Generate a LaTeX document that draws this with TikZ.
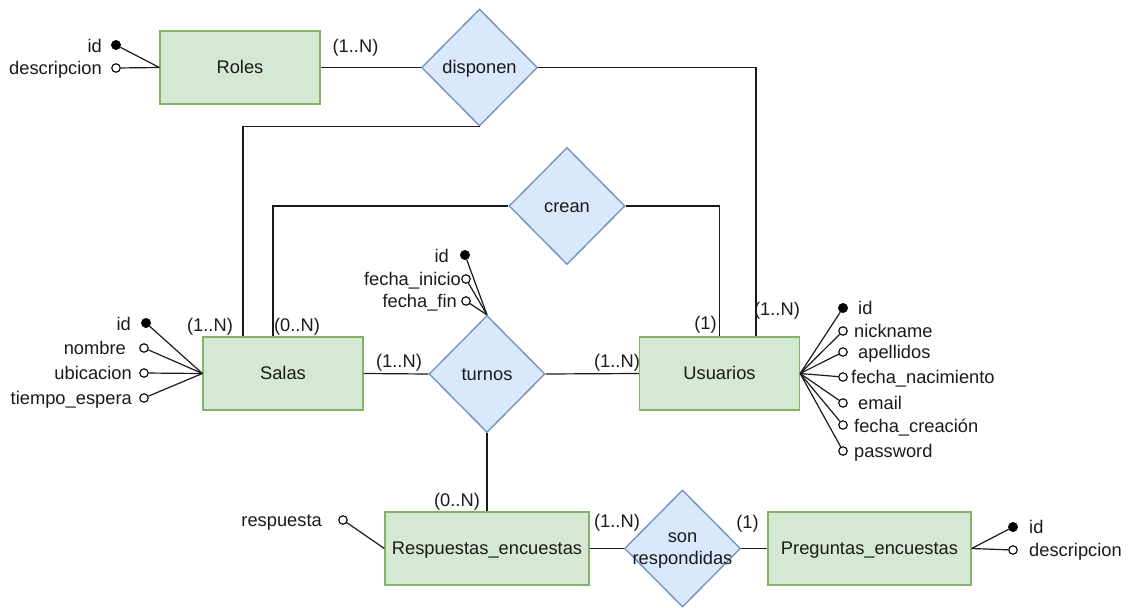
\documentclass[tikz,border=0pt]{standalone}
\usepackage{fontspec}
\setmainfont{Liberation Sans}
\usetikzlibrary{shapes.geometric,calc}
\definecolor{entfill}{HTML}{D5E8D4}
\definecolor{entdraw}{HTML}{82B366}
\definecolor{relfill}{HTML}{DAE8FC}
\definecolor{reldraw}{HTML}{6C8EBF}
\definecolor{ink}{HTML}{1A1A1A}
\begin{document}
\begin{tikzpicture}[x=1pt,y=-1pt,
  every node/.style={font=\fontsize{18.3}{21.5}\selectfont, text=ink},
  ent/.style={rectangle, draw=entdraw, fill=entfill, line width=1.3pt, minimum width=160pt, minimum height=73pt, inner sep=0, text height=16.4pt, text depth=3.6pt},
  rel/.style={diamond, draw=reldraw, fill=relfill, line width=1.3pt, minimum width=116pt, minimum height=117pt, inner sep=0},
  pk/.style={circle, draw=black, fill=black, minimum size=9.5pt, inner sep=0},
  att/.style={circle, draw=black, fill=white, line width=1.1pt, minimum size=8.5pt, inner sep=0},
  txt/.style={inner sep=0, text height=16.4pt, text depth=3.6pt},
  conn/.style={draw=ink, line width=1.2pt},
]
\useasboundingbox (0,0) rectangle (1128,608);

% entities
\node[ent] (roles) at (240,67.5) {Roles};
\node[ent] (salas) at (283,373.5) {Salas};
\node[ent] (usuarios) at (719.5,373.5) {Usuarios};
\node[ent, minimum width=204pt] (resp) at (487,548.5) {Respuestas\_encuestas};
\node[ent, minimum width=203pt] (preg) at (869.5,548.5) {Preguntas\_encuestas};

% relationships
\node[rel] (disponen) at (479.5,67.5) {};
\node[txt] (disponent) at (disponen) {disponen};
\node[rel] (crean) at (567,206) {};
\node[txt] (creant) at (crean) {crean};
\node[rel] (turnos) at (487,374) {};
\node[txt] (turnost) at (turnos) {turnos};
\node[rel] (son) at (682.5,548.5) {};
\node[align=center, inner sep=0] (sont) at ($(son)+(0,2)$) {son\\respondidas};

% relationship connectors
\draw[conn] (roles.east) -- (disponen.west);
\draw[conn] (disponen.east) -| ($(usuarios.north)+(36.5,0)$);
\draw[conn] (disponen.south) -| ($(salas.north)+(-40,0)$);
\draw[conn] (crean.west) -| ($(salas.north)+(-10,0)$);
\draw[conn] (crean.east) -| (usuarios.north);
\draw[conn] (salas.east) -- (turnos.west);
\draw[conn] (turnos.east) -- (usuarios.west);
\draw[conn] (turnos.south) -- (resp.north);
\draw[conn] (resp.east) -- (son.west);
\draw[conn] (son.east) -- (preg.west);

% cardinalities
\node[txt] (c1) at (355.5,46) {(1..N)};
\node[txt] (c2) at (210,325) {(1..N)};
\node[txt] (c3) at (297,325) {(0..N)};
\node[txt] (c4) at (399,361) {(1..N)};
\node[txt] (c5) at (617,361) {(1..N)};
\node[txt] (c6) at (705.5,323) {(1)};
\node[txt] (c7) at (777,309) {(1..N)};
\node[txt] (c8) at (457,500) {(0..N)};
\node[txt] (c9) at (617,521) {(1..N)};
\node[txt] (c10) at (747.5,522) {(1)};

% Roles attributes
\node[pk] (rid) at (116,45) {};
\node[att] (rdesc) at (116,68) {};
\draw[conn] (roles.west) -- (rid);
\draw[conn] (roles.west) -- (rdesc);
\node[txt, anchor=east] (ridl) at (102,46) {id};
\node[txt, anchor=east] (rdescl) at (102,68) {descripcion};

% Salas attributes
\node[pk] (sid) at (146,323) {};
\node[att] (snom) at (144,348) {};
\node[att] (subi) at (144,373) {};
\node[att] (stie) at (144,398) {};
\foreach \a in {sid,snom,subi,stie} \draw[conn] (salas.west) -- (\a);
\node[txt, anchor=east] (sidl) at (131,324) {id};
\node[txt, anchor=east] (snoml) at (126,348) {nombre};
\node[txt, anchor=east] (subil) at (132,373) {ubicacion};
\node[txt, anchor=east] (stiel) at (132,398) {tiempo\_espera};

% turnos attributes
\node[pk] (tid) at (465,255) {};
\node[att] (tini) at (466,279) {};
\node[att] (tfin) at (466,301) {};
\foreach \a in {tid,tini,tfin} \draw[conn] (turnos.north) -- (\a);
\node[txt, anchor=east] (tidl) at (449,256) {id};
\node[txt, anchor=east] (tinil) at (461,279) {fecha\_inicio};
\node[txt, anchor=east] (tfinl) at (457,301) {fecha\_fin};

% Usuarios attributes
\node[pk] (uid) at (843,308) {};
\node[att] (unick) at (843,331) {};
\node[att] (uape) at (843,352) {};
\node[att] (unac) at (843,377) {};
\node[att] (uemail) at (843,403) {};
\node[att] (ucre) at (843,425) {};
\node[att] (upass) at (843,451) {};
\foreach \a in {uid,unick,uape,unac,uemail,ucre,upass} \draw[conn] (usuarios.east) -- (\a);
\node[txt, anchor=west] (uidl) at (858,308) {id};
\node[txt, anchor=west] (unickl) at (854,331) {nickname};
\node[txt, anchor=west] (uapel) at (858,352) {apellidos};
\node[txt, anchor=west] (unacl) at (851,377) {fecha\_nacimiento};
\node[txt, anchor=west] (uemaill) at (858,403) {email};
\node[txt, anchor=west] (ucrel) at (854,426) {fecha\_creación};
\node[txt, anchor=west] (upassl) at (854,451) {password};

% Respuestas attribute
\node[att] (rresp) at (343,520) {};
\draw[conn] (resp.west) -- (rresp);
\node[txt, anchor=east] (rrespl) at (322,520) {respuesta};

% Preguntas attributes
\node[pk] (pid) at (1013,527) {};
\node[att] (pdesc) at (1013,550) {};
\draw[conn] (preg.east) -- (pid);
\draw[conn] (preg.east) -- (pdesc);
\node[txt, anchor=west] (pidl) at (1029,527) {id};
\node[txt, anchor=west] (pdescl) at (1029,550) {descripcion};
\end{tikzpicture}
\end{document}
